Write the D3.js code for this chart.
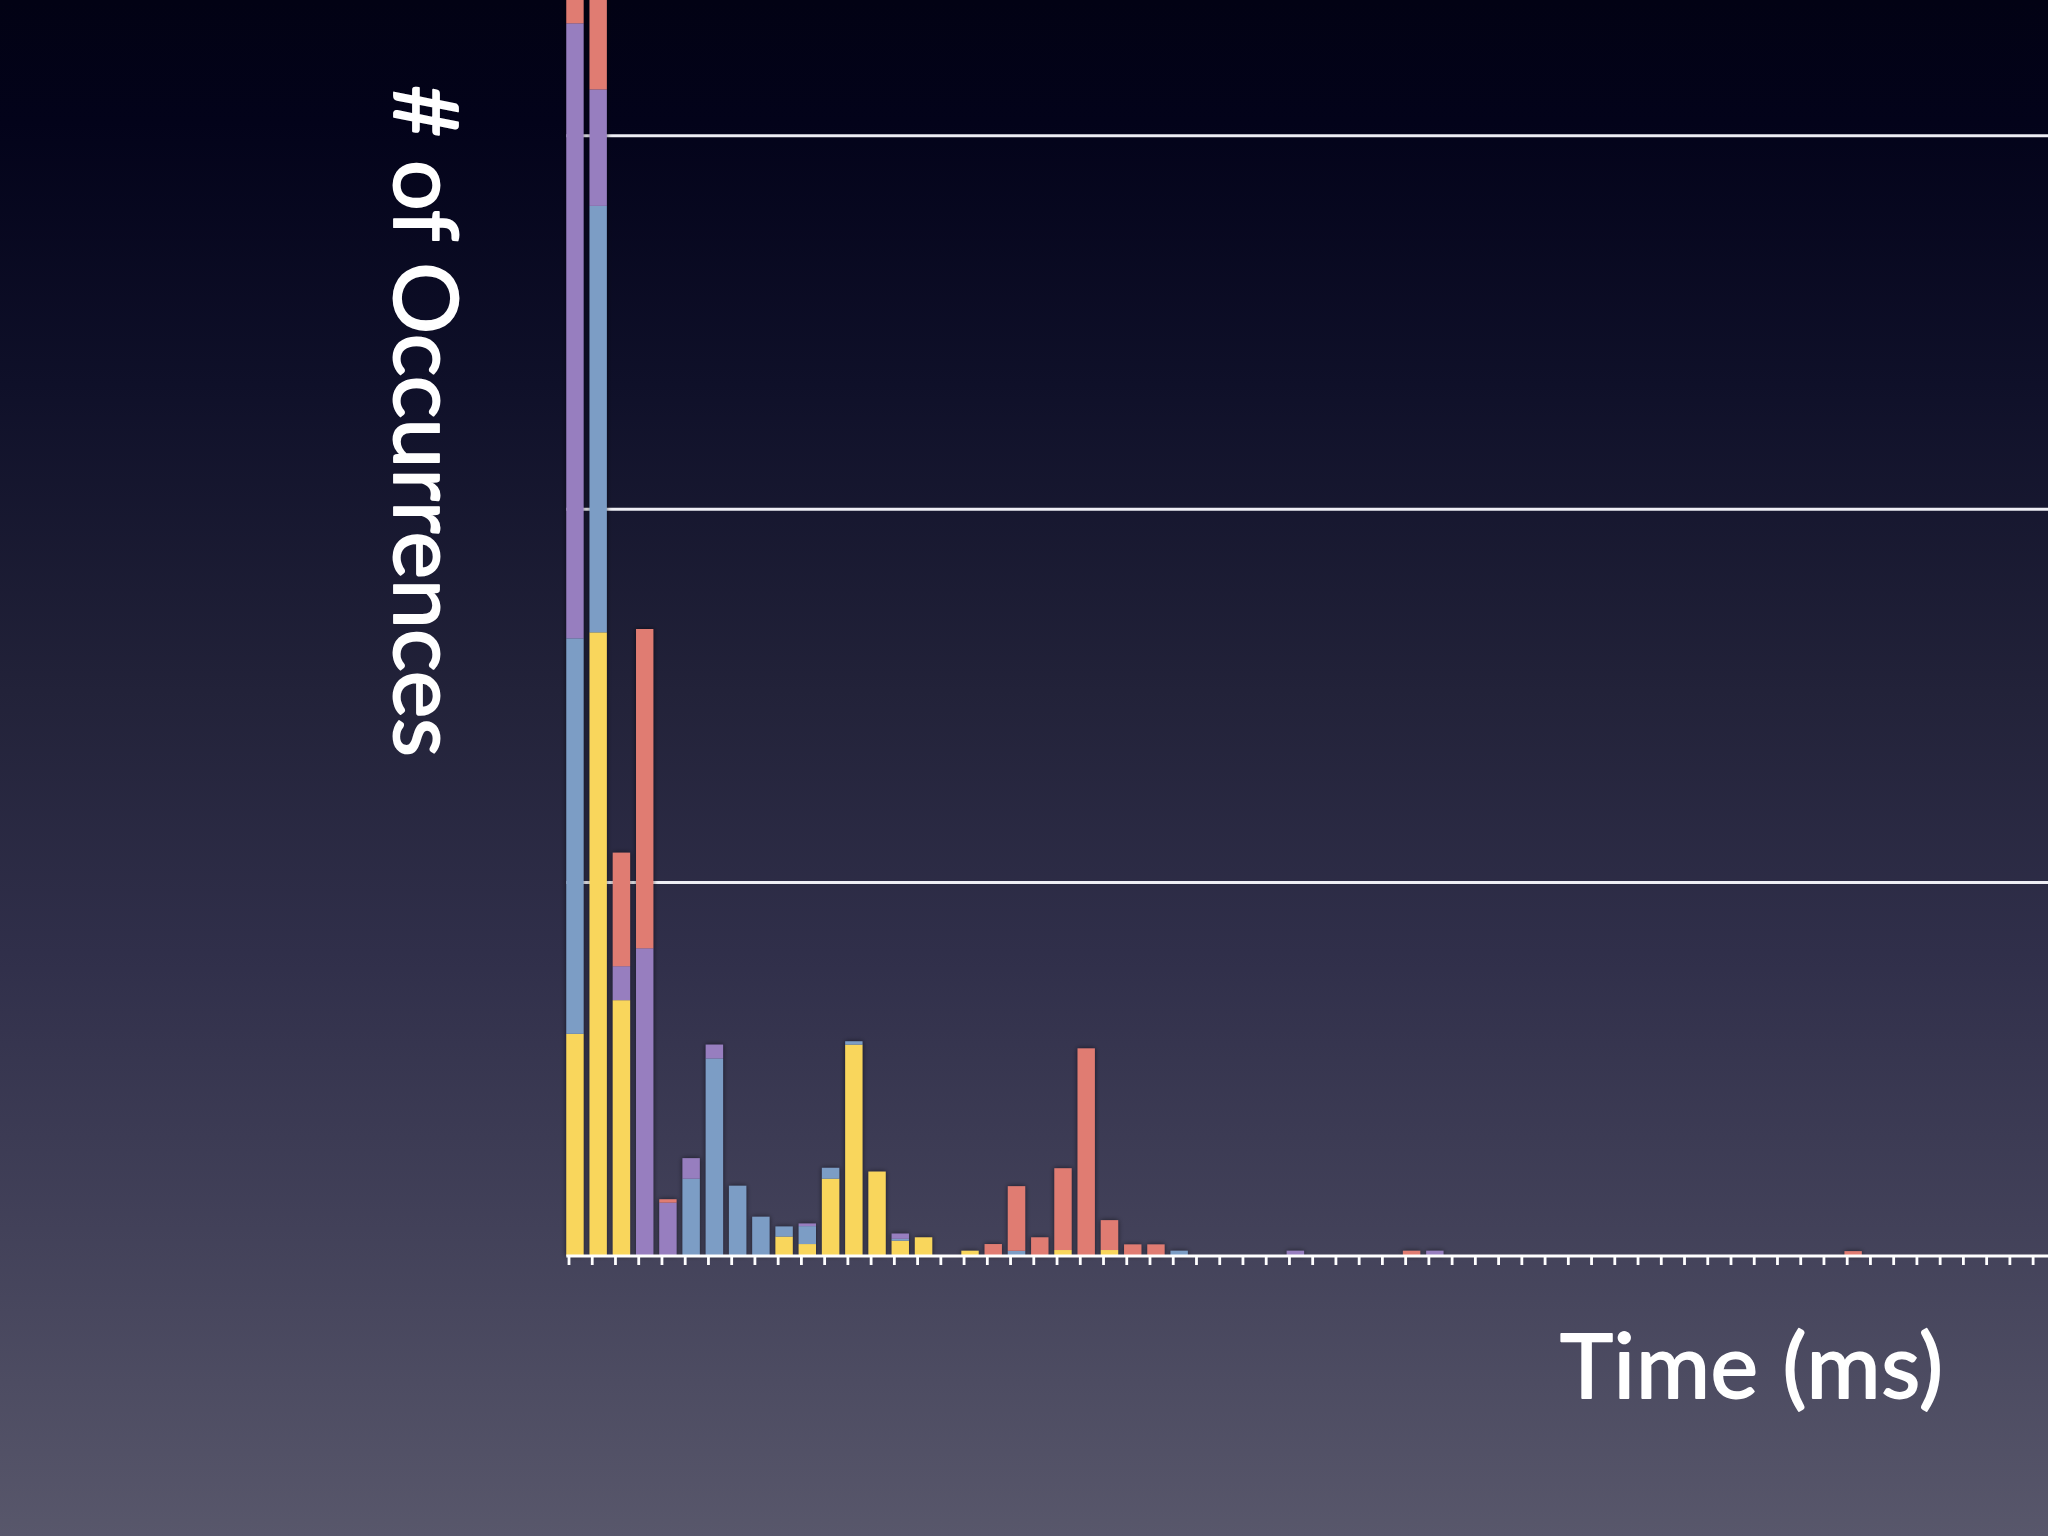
<!DOCTYPE html>
<html>
<head>
<meta charset="utf-8">
<script src="https://cdn.jsdelivr.net/npm/d3@7/dist/d3.min.js"></script>
<style>
  html, body { margin: 0; padding: 0; background: #000; }
  svg { display: block; }
</style>
</head>
<body>
<svg id="chart" width="2048" height="1536"></svg>
<script>
// ---- data (units: gridlines at 100 / 200 / 300) ----
const bins = [0,1,2,3,4,5,6,7,8,9,10,11,12,13,14,15,16,17,18,19,20,21,22,23,24,25,26,27,28,29,30,31,
              32,33,34,35,36,37,38,39,40,41,42,43,44,45,46,47,48,49,50,51,52,53,54,55,56,57,58,59,60,61,62,63];
const seriesNames = ["yellow", "blue", "purple", "red"];
const yellowValues = [59.5,167,68.5,0,0,0,0,0,0,5.2,3.2,20.7,56.6,22.6,4.1,5.0,0,1.4,0,0,0,1.6,0,1.6,0,0,0,0,0,0,0,0,
                      0,0,0,0,0,0,0,0,0,0,0,0,0,0,0,0,0,0,0,0,0,0,0,0,0,0,0,0,0,0,0,0];
const blueValues   = [105.9,114.2,0,0,0,20.7,52.9,18.8,10.5,2.7,4.8,2.9,0.9,0,0.5,0,0,0,0,1.4,0,0,0,0,0,0,1.4,0,0,0,0,0,
                      0,0,0,0,0,0,0,0,0,0,0,0,0,0,0,0,0,0,0,0,0,0,0,0,0,0,0,0,0,0,0,0];
const purpleValues = [164.7,31.2,9.1,82.4,14.3,5.5,3.7,0,0,0,0.7,0,0,0,1.4,0,0,0,0,0,0,0,0,0,0,0,0,0,0,0,0,1.4,
                      0,0,0,0,0,1.4,0,0,0,0,0,0,0,0,0,0,0,0,0,0,0,0,0,0,0,0,0,0,0,0,0,0];
const redValues    = [15,30,30.4,85.5,0.9,0,0,0,0,0,0,0,0,0,0,0,0,0,3.2,17.3,5.0,21.9,55.6,8.0,3.1,3.1,0,0,0,0,0,0,
                      0,0,0,0,1.4,0,0,0,0,0,0,0,0,0,0,0,0,0,0,0,0,0,0,1.3,0,0,0,0,0,0,0,0];
const gridValues = [100, 200, 300];
const xLabel = "Time (ms)";
const yLabel = "# of Occurrences";
const colors = { yellow: "#f9d65c", blue: "#7b9dc5", purple: "#977ebf", red: "#e07b72" };

// ---- layout ----
const W = 2048, H = 1536;
const svg = d3.select("#chart");
const defs = svg.append("defs");

const bg = defs.append("linearGradient").attr("id", "bg").attr("x1", 0).attr("y1", 0).attr("x2", 0).attr("y2", 1);
[[0, "#020214"], [0.08, "#03031a"], [0.25, "#0f1029"], [0.45, "#222239"], [0.62, "#302f4a"],
 [0.8, "#424159"], [1, "#58576b"]].forEach(([o, c]) => bg.append("stop").attr("offset", o).attr("stop-color", c));
svg.append("rect").attr("width", W).attr("height", H).attr("fill", "url(#bg)");

const sh = defs.append("filter").attr("id", "shadow").attr("x", "-50%").attr("y", "-10%").attr("width", "200%").attr("height", "120%");
sh.append("feDropShadow").attr("dx", 0).attr("dy", 0).attr("stdDeviation", 2.5)
  .attr("flood-color", "#000").attr("flood-opacity", 0.6);

const x = d3.scaleLinear().domain([0, 64]).range([566.3, 566.3 + 64 * 23.24]);
const y = d3.scaleLinear().domain([0, 300]).range([1256, 135.7]);
const barW = 17.3;

// gridlines
svg.append("g").selectAll("line").data(gridValues).join("line")
  .attr("x1", x(0)).attr("x2", W)
  .attr("y1", d => y(d)).attr("y2", d => y(d))
  .attr("stroke", "#eeeef4").attr("stroke-width", 3);

// stacked bars
const table = bins.map((b, i) => ({ bin: b, yellow: yellowValues[i], blue: blueValues[i], purple: purpleValues[i], red: redValues[i] }));
const stack = d3.stack().keys(seriesNames)(table);
const barsG = svg.append("g").attr("filter", "url(#shadow)");
barsG.selectAll("g").data(stack).join("g")
  .attr("fill", d => colors[d.key])
  .selectAll("rect").data(d => d.filter(s => s[1] - s[0] > 0)).join("rect")
  .attr("x", d => x(d.data.bin))
  .attr("width", barW)
  .attr("y", d => y(d[1]))
  .attr("height", d => y(d[0]) - y(d[1]));

// x axis: ticks
const axis = d3.axisBottom(x).tickValues(bins).tickSize(8).tickSizeOuter(0).tickFormat("");
const axG = svg.append("g").attr("transform", `translate(2.2, ${y(0) + 1})`).call(axis);
axG.select(".domain").remove();
axG.selectAll(".tick line").attr("stroke", "#ffffff").attr("stroke-width", 2.8);
// axis line
svg.append("line").attr("x1", x(0)).attr("x2", W).attr("y1", y(0)).attr("y2", y(0))
  .attr("stroke", "#ffffff").attr("stroke-width", 3);

// labels
const font = "Lato, 'Open Sans', sans-serif";
svg.append("text").text(xLabel)
  .attr("x", 1560).attr("y", 1398)
  .attr("font-family", font).attr("font-size", 90).attr("fill", "#ffffff")
  .attr("stroke", "#ffffff").attr("stroke-width", 1.8).attr("stroke-linejoin", "round")
  .attr("textLength", 383).attr("lengthAdjust", "spacing");
svg.append("text").text(yLabel)
  .attr("transform", "translate(394, 85) rotate(90)")
  .attr("font-family", font).attr("font-size", 90).attr("fill", "#ffffff")
  .attr("stroke", "#ffffff").attr("stroke-width", 1.8).attr("stroke-linejoin", "round")
  .attr("textLength", 672).attr("lengthAdjust", "spacing");
</script>
</body>
</html>
